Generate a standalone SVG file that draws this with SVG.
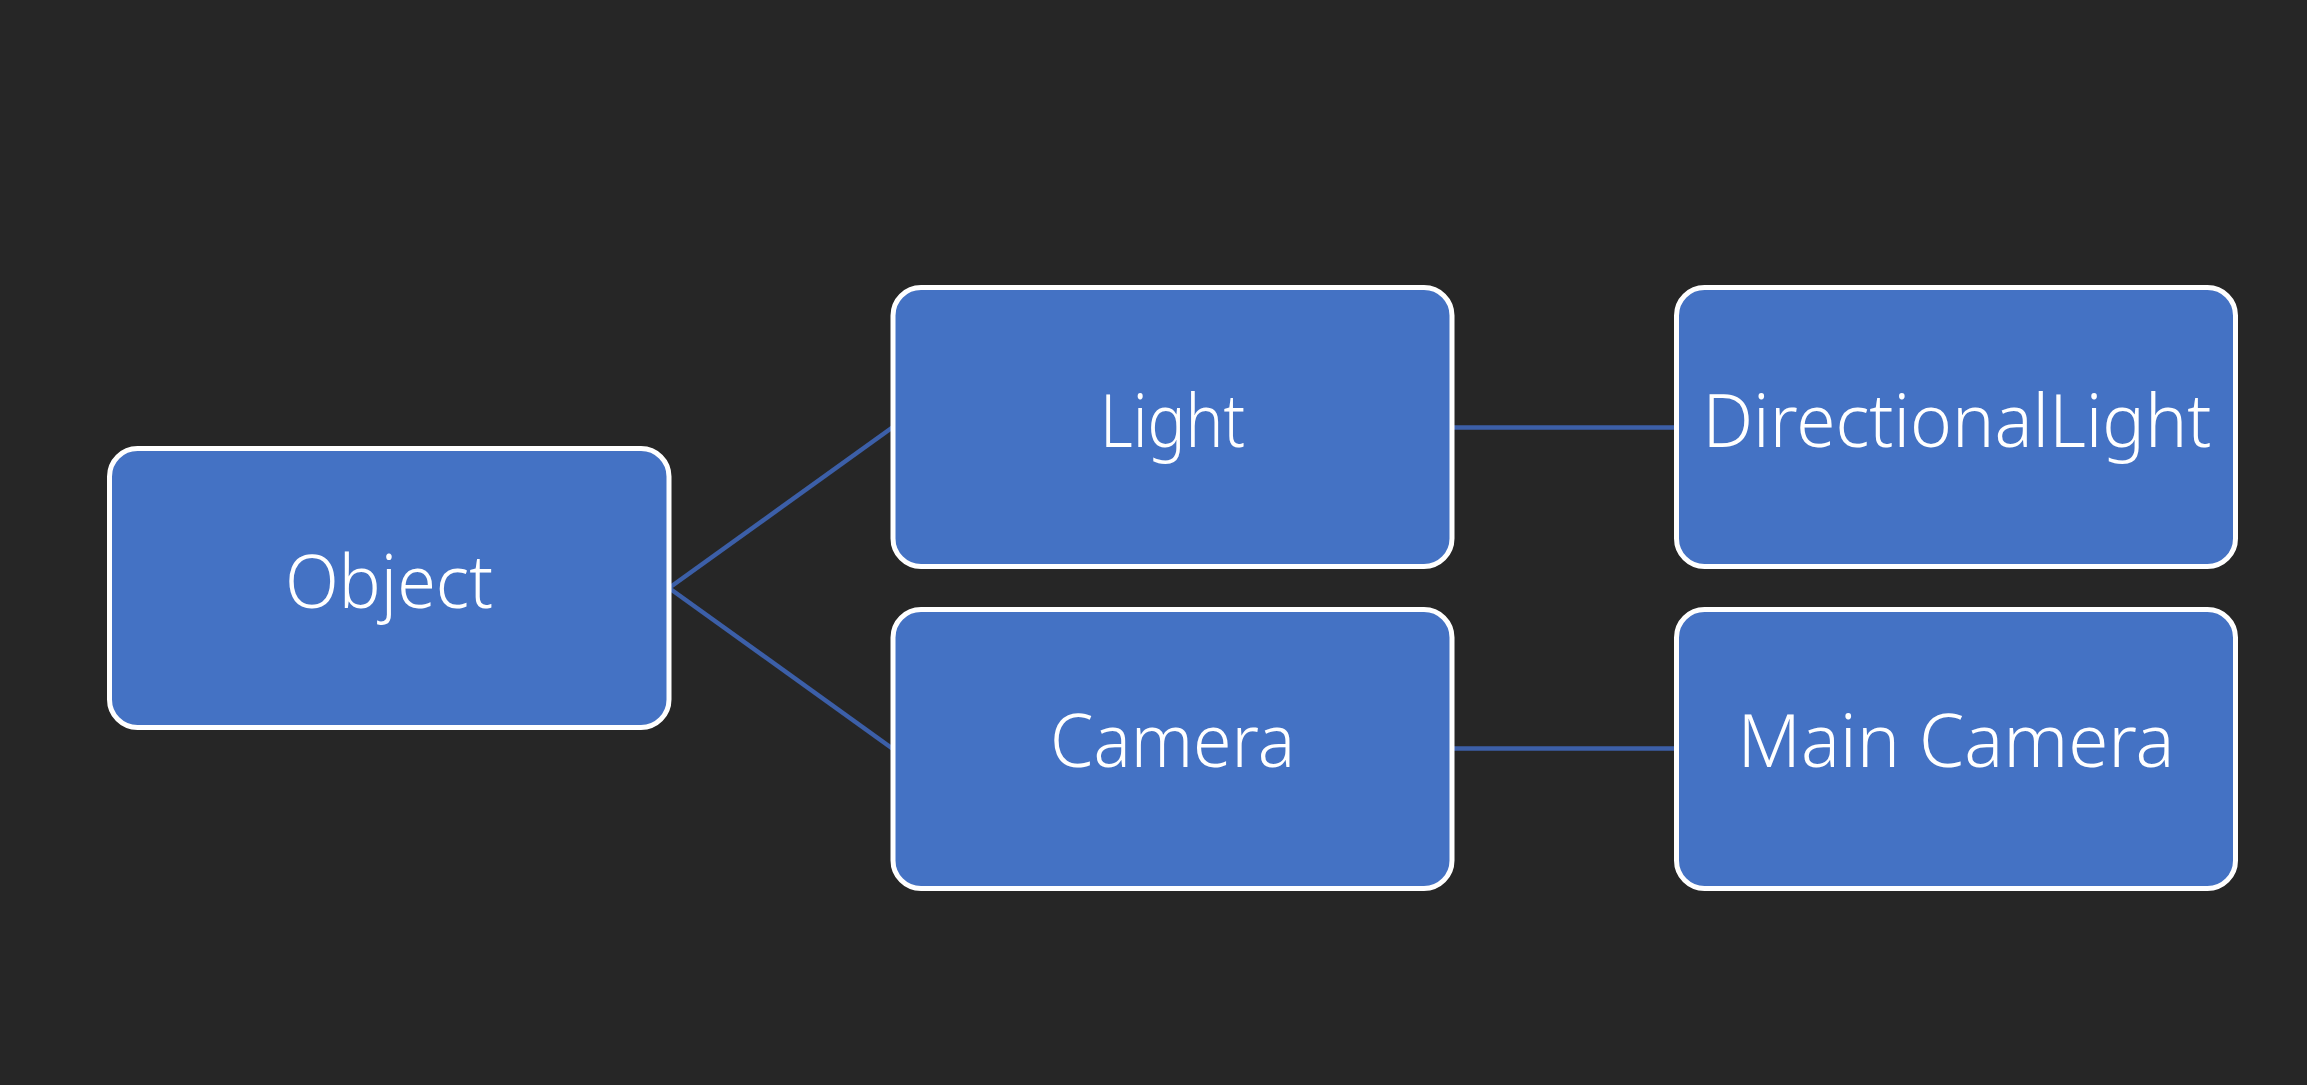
<svg xmlns="http://www.w3.org/2000/svg" width="2307" height="1085" viewBox="0 0 2307 1085">
<style>
.bg{fill:#262626}
.box{fill:#4472C4;stroke:#FFFFFF;stroke-width:5}
.lbl{fill:#FFFFFF;font-family:"Noto Sans","Open Sans","Liberation Sans",sans-serif;font-weight:300;font-size:73px;text-anchor:middle}
.conn{stroke:#3C5FA8;stroke-width:4.5;fill:none}
</style>
<rect class="bg" x="0" y="0" width="2307" height="1085"/>
<g id="connectors">
<line class="conn" x1="669" y1="588" x2="893" y2="427"/>
<line class="conn" x1="669" y1="588" x2="893" y2="749"/>
<line class="conn" x1="1452" y1="427.5" x2="1676.5" y2="427.5"/>
<line class="conn" x1="1452" y1="748.5" x2="1676.5" y2="748.5"/>
</g>
<g id="node-object">
<rect class="box" x="109.5" y="448.5" width="559.5" height="279" rx="28"/>
<text class="lbl" x="389" y="608" textLength="208" lengthAdjust="spacingAndGlyphs">Object</text>
</g>
<g id="node-light">
<rect class="box" x="893" y="287.5" width="559" height="279" rx="28"/>
<text class="lbl" x="1172.5" y="447" textLength="145" lengthAdjust="spacingAndGlyphs">Light</text>
</g>
<g id="node-camera">
<rect class="box" x="893" y="609.5" width="559" height="279" rx="28"/>
<text class="lbl" x="1172.5" y="767" textLength="245" lengthAdjust="spacingAndGlyphs">Camera</text>
</g>
<g id="node-directionallight">
<rect class="box" x="1676.5" y="287.5" width="559" height="279" rx="28"/>
<text class="lbl" x="1957" y="447" textLength="509" lengthAdjust="spacingAndGlyphs">DirectionalLight</text>
</g>
<g id="node-maincamera">
<rect class="box" x="1676.5" y="609.5" width="559" height="279" rx="28"/>
<text class="lbl" x="1956" y="767" textLength="437" lengthAdjust="spacingAndGlyphs">Main Camera</text>
</g>
</svg>
